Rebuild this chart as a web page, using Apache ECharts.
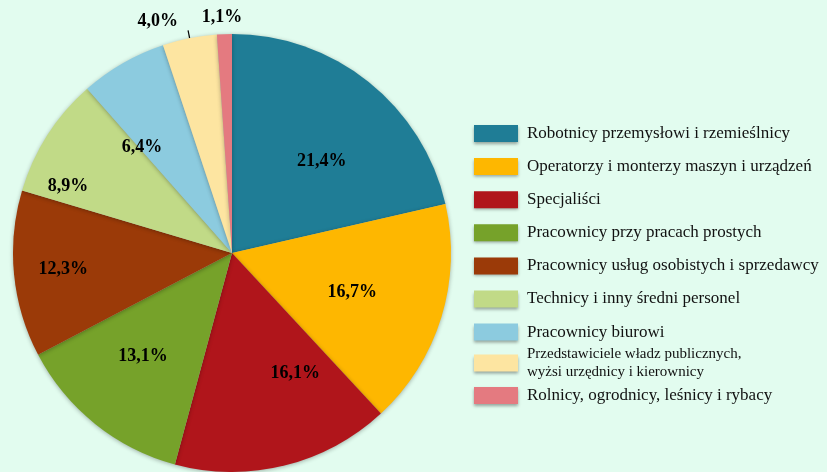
<!DOCTYPE html>
<html>
<head>
<meta charset="utf-8">
<script src="https://cdn.jsdelivr.net/npm/echarts@6/dist/echarts.min.js"></script>
<style>
  html, body { margin: 0; padding: 0; background: #e2fcef; }
  #chart { width: 827px; height: 472px; }
</style>
</head>
<body>
<div id="chart"></div>
<script>
  var categories = [
    'Robotnicy przemysłowi i rzemieślnicy',
    'Operatorzy i monterzy maszyn i urządzeń',
    'Specjaliści',
    'Pracownicy przy pracach prostych',
    'Pracownicy usług osobistych i sprzedawcy',
    'Technicy i inny średni personel',
    'Pracownicy biurowi',
    'Przedstawiciele władz publicznych,\nwyżsi urzędnicy i kierownicy',
    'Rolnicy, ogrodnicy, leśnicy i rybacy'
  ];
  var shares = [21.4, 16.7, 16.1, 13.1, 12.3, 8.9, 6.4, 4.0, 1.1];
  var colors = ['#1f7d96', '#feb700', '#b0151b', '#76a22a', '#9b3a08',
                '#c1da87', '#8ccbdf', '#fde5a1', '#e47a80'];

  // label nudges, to follow where the original put its labels
  var labelNudge = [[1, 20], [-16, -3], [29, -18], [0, -8], [-27, 2],
                    [-44, 10], [-19, 18], [-5, -9], [23, -9]];

  var chartDom = document.getElementById('chart');
  var myChart = echarts.init(chartDom, null, { renderer: 'canvas' });

  function fmt(v) {
    return v.toFixed(1).replace('.', ',') + '%';
  }

  function nudge(params) {
    var d = labelNudge[params.dataIndex];
    return { dx: d[0], dy: d[1], hideOverlap: false, moveOverlap: null };
  }

  var labelFont = {
    fontFamily: 'Liberation Serif',
    fontWeight: 'bold',
    fontSize: 18,
    color: '#000'
  };

  var mainData = categories.map(function (name, i) {
    var small = shares[i] < 5;
    return {
      name: name,
      value: shares[i],
      itemStyle: { color: colors[i] },
      label: { show: small },
      labelLine: { show: small && shares[i] > 2 }
    };
  });

  var labelData = categories.map(function (name, i) {
    return {
      name: name,
      value: shares[i],
      label: { show: shares[i] >= 5 }
    };
  });

  var legendText = {
    fontFamily: 'Liberation Serif',
    fontSize: 17,
    color: '#111',
    padding: [0, 0, 0, 4]
  };
  var legendIcon = { shadowBlur: 3, shadowColor: 'rgba(0,0,0,0.35)', shadowOffsetY: 2 };

  var option = {
    backgroundColor: '#e2fcef',
    animation: false,
    legend: [{
      orient: 'vertical',
      left: 469,
      top: 120,
      itemWidth: 44,
      itemHeight: 17,
      itemGap: 16.1,
      icon: 'rect',
      selectedMode: false,
      itemStyle: legendIcon,
      textStyle: legendText,
      data: categories.slice(0, 7)
    }, {
      orient: 'vertical',
      left: 469,
      top: 340,
      itemWidth: 44,
      itemHeight: 17,
      itemGap: 6,
      icon: 'rect',
      selectedMode: false,
      itemStyle: legendIcon,
      textStyle: legendText,
      data: [
        { name: categories[7], textStyle: { fontSize: 15, lineHeight: 18 } },
        categories[8]
      ]
    }],
    series: [{
      name: 'udział',
      type: 'pie',
      center: [232, 253],
      radius: 219,
      startAngle: 90,
      clockwise: true,
      avoidLabelOverlap: false,
      itemStyle: {
        shadowBlur: 4,
        shadowColor: 'rgba(0,0,0,0.3)',
        shadowOffsetY: 1
      },
      label: Object.assign({
        position: 'outside',
        formatter: function (p) { return fmt(p.value); }
      }, labelFont),
      labelLine: {
        length: 8,
        length2: 0,
        lineStyle: { color: '#000', width: 1.2 }
      },
      labelLayout: nudge,
      emphasis: { disabled: true },
      data: mainData
    }, {
      name: 'etykiety',
      type: 'pie',
      center: [232, 253],
      radius: [60, 219],
      startAngle: 90,
      clockwise: true,
      silent: true,
      itemStyle: { color: 'rgba(0,0,0,0)' },
      label: Object.assign({
        position: 'inside',
        formatter: function (p) { return fmt(p.value); }
      }, labelFont),
      labelLine: { show: false },
      labelLayout: nudge,
      emphasis: { disabled: true },
      data: labelData
    }]
  };

  myChart.setOption(option);
  window.addEventListener('resize', myChart.resize);
</script>
</body>
</html>
